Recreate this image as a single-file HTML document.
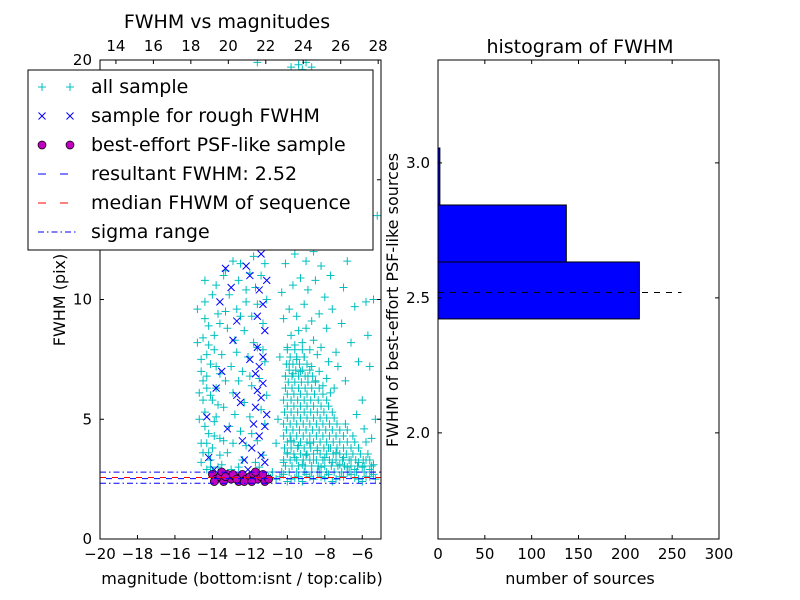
<!DOCTYPE html>
<html><head><meta charset="utf-8"><style>
body{margin:0;background:#fff;}
svg{display:block;font-family:"DejaVu Sans","Liberation Sans",sans-serif;}
</style></head><body>
<svg id="fig" width="800" height="600" viewBox="0 0 800 600"></svg>
<script>
// ---- data ----
const allSample = [[-14.3,2.9],[-14.1,3.3],[-14.0,3.8],[-14.2,4.4],[-13.9,4.9],[-14.4,5.3],[-14.0,5.8],[-13.8,6.3],[-14.3,6.8],[-14.1,7.3],[-13.9,7.9],[-14.5,8.4],[-14.2,8.9],[-13.7,9.4],[-14.4,9.9],[-13.8,10.6],[-13.3,11.2],[-12.9,11.6],[-13.5,3.1],[-13.2,3.6],[-13.6,4.2],[-13.1,4.7],[-13.4,5.5],[-12.9,6.1],[-13.3,6.6],[-13.0,7.2],[-13.5,7.7],[-12.8,8.3],[-13.2,8.8],[-12.7,9.6],[-13.1,10.2],[-12.6,10.8],[-12.4,3.3],[-12.2,3.9],[-12.5,4.5],[-12.0,5.1],[-12.3,5.7],[-11.9,6.4],[-12.4,7.0],[-12.1,7.6],[-11.8,8.2],[-12.3,8.7],[-11.9,9.3],[-12.2,9.9],[-11.7,10.5],[-12.0,11.1],[-11.5,3.0],[-11.3,3.5],[-11.6,4.1],[-11.2,4.8],[-11.4,5.4],[-11.1,6.0],[-11.5,6.7],[-11.2,7.4],[-11.6,8.0],[-11.3,9.0],[-11.1,10.0],[-11.4,11.0],[-14.6,7.0],[-14.7,6.1],[-14.6,4.0],[-14.8,8.2],[-13.7,3.0],[-13.0,2.9],[-12.6,3.0],[-14.0,2.8],[-13.6,9.0],[-12.9,4.0],[-13.8,5.1],[-14.1,6.0],[-14.3,7.7],[-13.4,11.0],[-12.5,11.5],[-11.8,11.8],
[-14.2,3.6],[-14.4,4.7],[-14.5,5.8],[-14.3,6.3],[-14.6,7.5],[-14.4,9.2],[-14.0,10.2],[-13.9,4.3],[-13.7,5.6],[-13.6,6.9],[-13.9,8.5],[-13.6,3.5],[-14.1,3.0],[-14.3,4.0],[-14.5,6.6],[-14.2,8.1],[-13.8,7.2],[-13.4,4.1],[-13.3,9.5],[-12.8,5.2],[-12.6,6.6],[-12.7,7.8],[-12.5,9.3],[-12.2,10.4],[-12.0,6.8],[-11.9,4.4],[-11.7,3.2],[-11.6,9.8],[-11.3,7.9],[-11.2,11.5],[-14.6,3.2],[-14.7,5.0],[-14.5,3.6],[-14.4,10.8],[-14.8,9.6],
[-10.2,3.2],[-10.0,3.6],[-9.8,4.1],[-9.6,3.4],[-9.4,3.9],[-9.2,3.1],[-9.0,3.5],[-8.8,4.0],[-8.6,3.3],[-8.4,3.7],[-8.2,3.0],[-8.0,3.4],[-7.8,3.8],[-7.6,3.2],[-7.4,3.6],[-7.2,3.1],[-7.0,3.4],[-6.8,3.0],[-6.6,3.3],[-6.4,2.9],[-6.2,3.2],[-6.0,3.0],[-5.8,3.3],[-5.6,2.9],[-5.4,3.1],
[-10.1,6.8],[-9.9,7.3],[-9.7,6.9],[-9.5,7.5],[-9.3,7.0],[-9.1,7.6],[-8.9,6.8],[-8.7,7.2],[-8.5,6.6],[-8.3,7.0],[-8.1,6.4],[-7.9,6.7],[-7.7,6.1],[-7.5,6.3],
[-10.0,8.0],[-9.8,8.5],[-9.6,8.1],[-9.4,8.7],[-9.2,8.2],[-9.0,8.8],[-8.8,7.9],[-8.6,8.3],[-8.4,7.7],[-8.2,8.0],[-7.8,7.4],
[-10.2,9.2],[-9.9,9.6],[-9.5,9.3],[-9.1,9.8],[-8.7,9.1],[-8.3,9.4],[-7.9,8.8],[-7.4,7.8],
[-10.3,10.3],[-9.7,10.6],[-9.3,10.9],[-8.9,10.4],[-8.5,10.8],[-8.0,10.1],[-7.6,9.6],[-7.1,9.0],[-6.6,8.2],[-6.2,7.4],
[-10.1,11.5],[-9.6,11.9],[-9.0,11.6],[-8.6,12.0],[-8.2,11.4],[-7.7,11.0],[-7.0,10.5],[-6.4,9.7],[-5.8,9.9],
[-9.8,19.7],[-9.4,19.8],[-9.0,19.9],[-8.7,19.7],[-11.6,19.9],[-9.2,19.6],
[-5.4,10.0],[-5.6,7.2],[-6.0,5.8],[-5.3,5.0],[-5.9,4.6],[-6.3,5.2],[-5.5,4.2],[-6.9,6.6],[-7.3,7.2],[-10.4,7.6],[-10.5,5.0],[-10.6,4.0],[-10.3,12.5],[-5.2,13.5],[-5.7,8.5],[-6.8,11.6],
[-11.0,2.6],[-10.6,2.5],[-10.2,2.7],[-9.8,2.5],[-9.4,2.6],[-9.0,2.7],[-8.6,2.5],[-8.2,2.6],[-7.8,2.7],[-7.4,2.5],[-7.0,2.6],[-6.6,2.7],[-6.2,2.5],[-5.8,2.6],[-5.4,2.7],[-10.8,2.8],[-10.0,2.4],[-9.2,2.4],[-8.4,2.8],[-7.6,2.4],[-6.8,2.8],[-6.0,2.4],[-5.3,2.5],
[-10.9,2.55],[-10.4,2.6],[-9.6,2.55],[-8.8,2.6],[-8.0,2.55],[-7.2,2.6],[-6.4,2.55],[-5.6,2.6]];
// dense core of the faint-star cloud, listed row by row: fwhm then magnitudes
const denseRows = [
[2.8,[-10.3,-9.9,-9.5,-9.1,-8.7,-8.3,-7.9,-7.5,-7.1,-6.7,-6.3,-5.9,-5.5]],
[3.05,[-10.1,-9.75,-9.4,-9.05,-8.7,-8.35,-8.0,-7.65,-7.3,-6.95,-6.6,-6.25,-5.9,-5.5]],
[3.3,[-10.2,-9.85,-9.5,-9.15,-8.8,-8.45,-8.1,-7.75,-7.4,-7.05,-6.7,-6.35,-5.95,-5.6]],
[3.55,[-10.0,-9.65,-9.3,-8.95,-8.6,-8.25,-7.9,-7.55,-7.2,-6.85,-6.5,-6.1,-5.7]],
[3.8,[-10.15,-9.8,-9.45,-9.1,-8.75,-8.4,-8.05,-7.7,-7.35,-7.0,-6.6,-6.2]],
[4.05,[-10.0,-9.65,-9.3,-8.95,-8.6,-8.25,-7.9,-7.55,-7.2,-6.8,-6.4,-5.8]],
[4.3,[-10.2,-9.85,-9.5,-9.15,-8.8,-8.45,-8.1,-7.75,-7.4,-7.0,-6.5]],
[4.55,[-10.05,-9.7,-9.35,-9.0,-8.65,-8.3,-7.95,-7.6,-7.2,-6.8]],
[4.8,[-10.2,-9.85,-9.5,-9.15,-8.8,-8.45,-8.1,-7.75,-7.35,-6.9]],
[5.05,[-10.0,-9.65,-9.3,-8.95,-8.6,-8.25,-7.9,-7.5]],
[5.3,[-10.15,-9.8,-9.45,-9.1,-8.75,-8.4,-8.05,-7.6]],
[5.55,[-10.0,-9.65,-9.3,-8.95,-8.6,-8.2,-7.8]],
[5.8,[-10.2,-9.8,-9.45,-9.1,-8.75,-8.35,-7.9]],
[6.05,[-10.0,-9.65,-9.3,-8.95,-8.55,-8.1]],
[6.3,[-10.1,-9.75,-9.4,-9.05,-8.7,-8.3]],
[6.55,[-9.95,-9.6,-9.25,-8.9,-8.5]],
[6.8,[-10.1,-9.75,-9.4,-9.05,-8.65]],
[7.05,[-9.9,-9.55,-9.2,-8.8]],
[7.3,[-10.05,-9.7,-9.35,-8.95]],
[7.6,[-9.85,-9.5,-9.1]],
[7.9,[-10.0,-9.6,-9.2]]];
const roughSample = [[-14.3,5.1],[-13.9,2.9],[-13.8,6.3],[-13.5,7.0],[-13.3,11.3],[-13.2,4.6],[-13.0,10.5],[-12.9,8.3],[-12.7,9.1],[-12.7,6.0],[-12.5,5.7],[-12.3,3.3],[-12.2,11.4],[-12.0,11.0],[-11.9,3.8],[-11.8,4.8],[-11.7,5.5],[-11.7,6.9],[-11.6,8.0],[-11.6,9.3],[-11.5,10.4],[-11.5,4.3],[-11.4,3.5],[-11.4,5.9],[-11.3,6.5],[-11.3,7.6],[-11.3,9.8],[-11.2,8.7],[-11.2,4.7],[-11.2,3.2],[-11.1,10.8],[-11.1,5.2],[-11.5,7.2],[-11.6,6.2],[-12.0,7.5],[-12.4,4.1],[-13.6,9.9],[-14.2,3.4],[-11.4,11.9],[-12.1,2.9]];
const bestSample = [[-14.0,2.7],[-13.8,2.5],[-13.6,2.6],[-13.4,2.4],[-13.2,2.7],[-13.0,2.5],[-12.8,2.6],[-12.6,2.4],[-12.4,2.7],[-12.2,2.5],[-12.0,2.6],[-11.8,2.7],[-11.6,2.5],[-11.4,2.6],[-11.2,2.4],[-11.0,2.5],[-13.9,2.4],[-13.5,2.8],[-12.9,2.7],[-12.3,2.4],[-11.7,2.8],[-11.3,2.7],[-12.7,2.5],[-13.3,2.6],[-11.9,2.4]];
const resultFWHM = 2.52;
const medianFWHM = 2.57;
const sigmaRange = [2.33, 2.79];
const xTicksBottom = [-20,-18,-16,-14,-12,-10,-8,-6];
const xTicksTop = [14,16,18,20,22,24,26,28];
const yTicksLeft = [0,5,10,15,20];
const histBinEdges = [2.422,2.633,2.844,3.055];
const histCounts = [215,137,2];
const histXTicks = [0,50,100,150,200,250,300];
const histYTicks = [2.0,2.5,3.0];

// ---- axes ----
const NS="http://www.w3.org/2000/svg";
const svg=document.getElementById('fig');
function mk(tag,attrs,parent){const e=document.createElementNS(NS,tag);for(const k in attrs)e.setAttribute(k,attrs[k]);(parent||svg).appendChild(e);return e;}
const L={x0:100,x1:381,y0:60,y1:539};
const lx=m=>L.x0+(m+20)/15*(L.x1-L.x0);
const ly=f=>L.y1-f/20*(L.y1-L.y0);
const ltx=t=>L.x0+(t-13.15)/15*(L.x1-L.x0);
const R={x0:438,x1:719,y0:60,y1:539};
const rx=c=>R.x0+c/300*(R.x1-R.x0);
const ry=v=>R.y1-(v-1.607)/(3.381-1.607)*(R.y1-R.y0);

const defs=mk('defs',{});
const cp=mk('clipPath',{id:'lclip'},defs);
mk('rect',{x:L.x0,y:L.y0,width:L.x1-L.x0,height:L.y1-L.y0},cp);

const gL=mk('g',{'clip-path':'url(#lclip)'});


const gAll=mk('g',{stroke:'#00bfbf','stroke-width':1},gL);


function plus(m,f){const x=lx(m),y=ly(f);
 const e=mk('path',{d:`M${x-4},${y}H${x+4}M${x},${y-4}V${y+4}`},gAll);
 
 }
allSample.forEach(p=>plus(p[0],p[1]));
denseRows.forEach(r=>r[1].forEach(m=>plus(m,r[0])));
const gRough=mk('g',{stroke:'#0000ff','stroke-width':1},gL);


roughSample.forEach(p=>{const x=lx(p[0]),y=ly(p[1]);
 const e=mk('path',{d:`M${x-3.5},${y-3.5}L${x+3.5},${y+3.5}M${x-3.5},${y+3.5}L${x+3.5},${y-3.5}`},gRough);
 
 });
const gBest=mk('g',{fill:'#bf00bf',stroke:'#000','stroke-width':0.7},gL);


bestSample.forEach(p=>{const e=mk('circle',{cx:lx(p[0]),cy:ly(p[1]),r:4},gBest);
 
 });
sigmaRange.forEach(v=>{const e=mk('line',{x1:L.x0,x2:L.x1,y1:ly(v),y2:ly(v),stroke:'#0000ff','stroke-dasharray':'6,3,1.5,3'},gL);
 
 });
let e1=mk('line',{x1:L.x0,x2:L.x1,y1:ly(medianFWHM),y2:ly(medianFWHM),stroke:'#ff0000','stroke-dasharray':'6,6'},gL);


e1=mk('line',{x1:L.x0,x2:L.x1,y1:ly(resultFWHM),y2:ly(resultFWHM),stroke:'#0000ff','stroke-dasharray':'6,6','stroke-dashoffset':6},gL);



const ax=mk('g',{stroke:'#000',fill:'none'});


mk('rect',{x:L.x0,y:L.y0,width:L.x1-L.x0,height:L.y1-L.y0,'stroke-width':1},ax);
function txt(x,y,s,size,anchor,parent,name,extra){const t=mk('text',Object.assign({x:x,y:y,'font-size':size,'text-anchor':anchor,fill:'#000'},extra||{}),parent||svg);t.textContent=s;
 return t;}
xTicksBottom.forEach(t=>{const x=lx(t);mk('path',{d:`M${x},${L.y1}v-4`},ax);
 txt(x,L.y1+20,(t<0?'\u2212':'')+Math.abs(t),15,'middle',null,'x-tick-label-bottom');});
xTicksTop.forEach(t=>{const x=ltx(t);mk('path',{d:`M${x},${L.y0}v4`},ax);
 txt(x,L.y0-9,String(t),15,'middle',null,'x-tick-label-top');});
yTicksLeft.forEach(t=>{const y=ly(t);mk('path',{d:`M${L.x0},${y}h4M${L.x1},${y}h-4`},ax);
 txt(L.x0-8,y+5,String(t),15,'end',null,'y-tick-label');});
txt(227,28,'FWHM vs magnitudes',19,'middle',null,'left-chart-title');
txt(242,584,'magnitude (bottom:isnt / top:calib)',16,'middle',null,'x-axis-title');
txt(65,300,'FWHM (pix)',16,'middle',null,'y-axis-title',{transform:'rotate(-90 65 300)'});

const lg=mk('g',{});


mk('rect',{x:28,y:70,width:345,height:180,fill:'#fff',stroke:'#000'},lg);
const labels=['all sample','sample for rough FWHM','best-effort PSF-like sample','resultant FWHM: 2.52','median FHWM of sequence','sigma range'];
labels.forEach((s,i)=>{const y=87+i*29;
 const g=mk('g',{},lg);
 if(i==0){[42,70].forEach(x=>mk('path',{d:`M${x-4},${y}h8M${x},${y-4}v8`,stroke:'#00bfbf'},g));}
 if(i==1){[42,70].forEach(x=>mk('path',{d:`M${x-3.5},${y-3.5}l7,7M${x-3.5},${y+3.5}l7,-7`,stroke:'#0000ff'},g));}
 if(i==2){[42,70].forEach(x=>mk('circle',{cx:x,cy:y,r:4,fill:'#bf00bf',stroke:'#000','stroke-width':0.7},g));}
 if(i==3)mk('line',{x1:38,x2:76,y1:y,y2:y,stroke:'#0000ff','stroke-dasharray':'8,14'},g);
 if(i==4)mk('line',{x1:38,x2:76,y1:y,y2:y,stroke:'#ff0000','stroke-dasharray':'8,14'},g);
 if(i==5)mk('line',{x1:38,x2:76,y1:y,y2:y,stroke:'#0000ff','stroke-dasharray':'6,3,1.5,3'},g);
 txt(91,y+6,s,19,'start',g,'legend-label');});

const gH=mk('g',{});


histCounts.forEach((c,i)=>{const y0=ry(histBinEdges[i]);const y1=ry(histBinEdges[i]+(histBinEdges[1]-histBinEdges[0]));
 const r=mk('rect',{x:R.x0,y:y1,width:rx(c)-R.x0,height:y0-y1,fill:'#0000ff',stroke:'#000','stroke-width':1},gH);
 
 });
e1=mk('line',{x1:R.x0,x2:rx(260),y1:ry(resultFWHM),y2:ry(resultFWHM),stroke:'#000','stroke-dasharray':'6,6'},gH);


const axR=mk('g',{stroke:'#000',fill:'none'});


mk('rect',{x:R.x0,y:R.y0,width:R.x1-R.x0,height:R.y1-R.y0},axR);
histXTicks.forEach(t=>{const x=rx(t);mk('path',{d:`M${x},${R.y1}v-4M${x},${R.y0}v4`},axR);
 txt(x,R.y1+20,String(t),15,'middle',null,'hist-x-tick-label');});
histYTicks.forEach(t=>{const y=ry(t);mk('path',{d:`M${R.x0},${y}h4M${R.x1},${y}h-4`},axR);
 txt(R.x0-8,y+5,t.toFixed(1),15,'end',null,'hist-y-tick-label');});
txt(580,53,'histogram of FWHM',19,'middle',null,'right-chart-title');
txt(580,584,'number of sources',16,'middle',null,'hist-x-axis-title');
txt(398,300,'FWHM of best-effort PSF-like sources',16,'middle',null,'hist-y-axis-title',{transform:'rotate(-90 398 300)'});
</script>
</body></html>
